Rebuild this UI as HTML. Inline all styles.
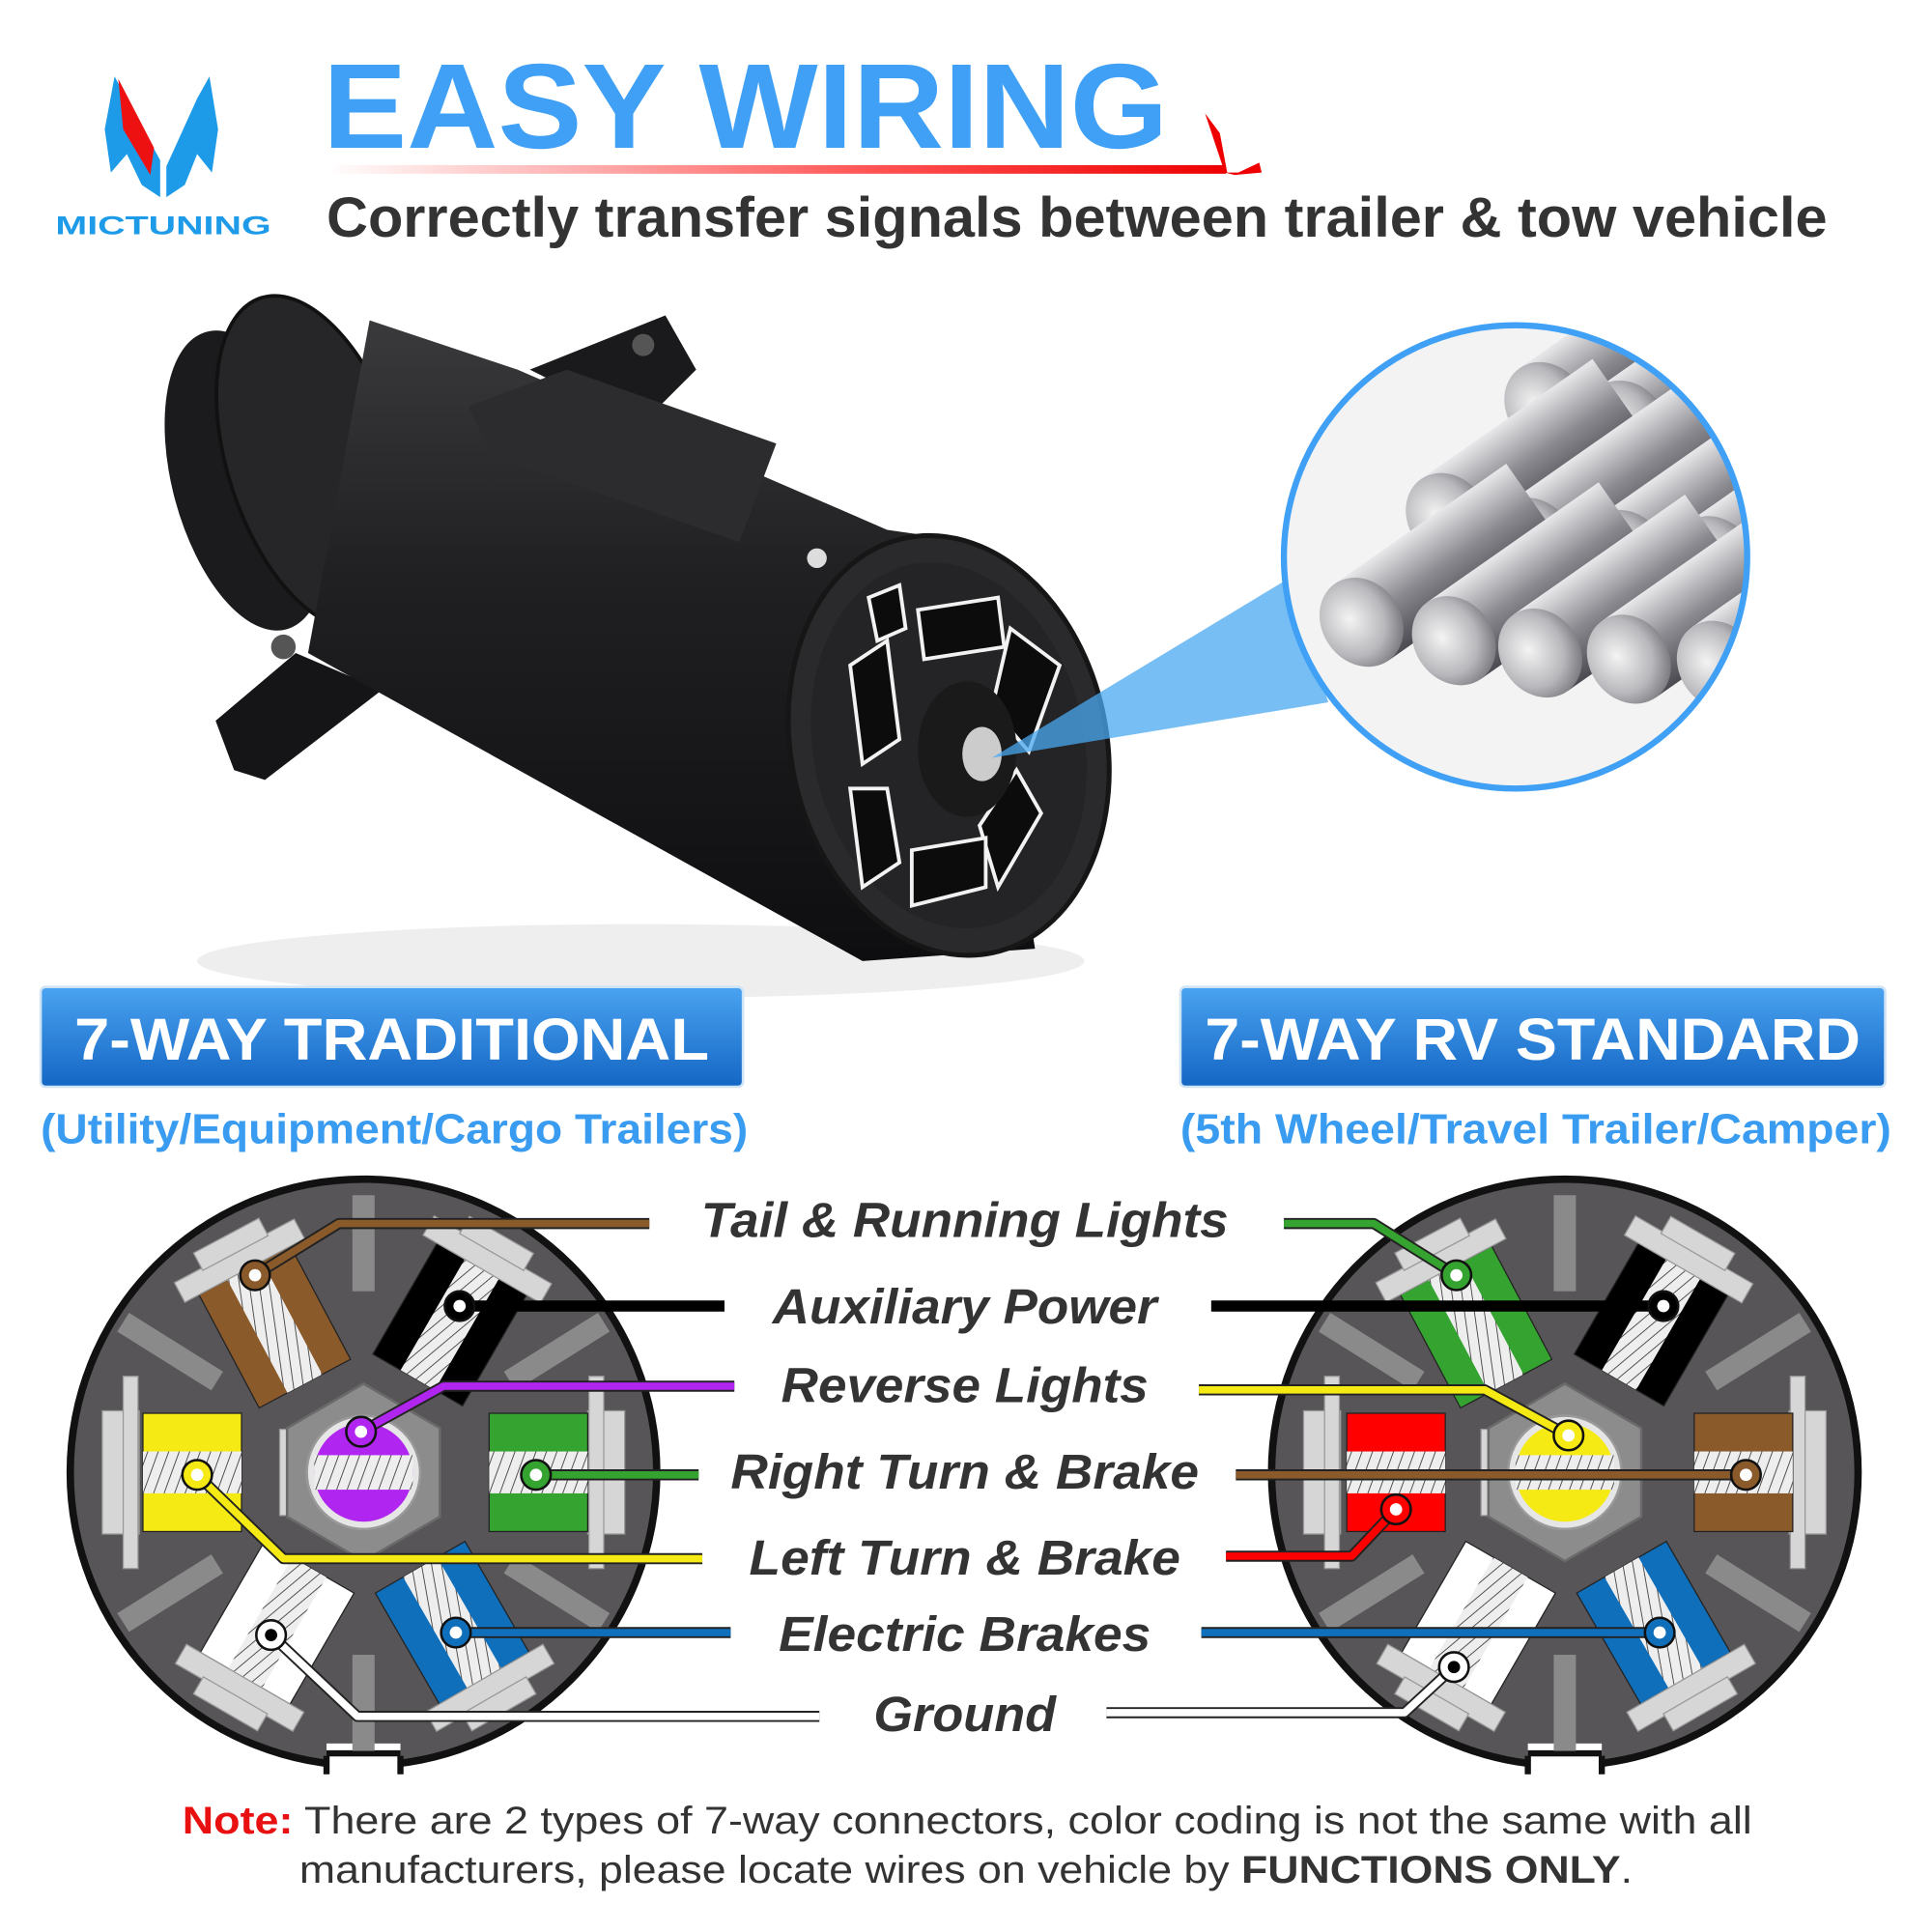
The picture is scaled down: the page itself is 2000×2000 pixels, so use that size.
<!DOCTYPE html>
<html><head><meta charset="utf-8">
<style>html,body{margin:0;padding:0;background:#fff}svg{display:block}</style>
</head><body>
<svg width="2000" height="2000" viewBox="0 0 1568 1568" xmlns="http://www.w3.org/2000/svg">
<defs>
<linearGradient id="btn" x1="0" y1="0" x2="0" y2="1"><stop offset="0" stop-color="#4aa3f0"/><stop offset="1" stop-color="#1466c4"/></linearGradient>
<linearGradient id="ul" x1="0" y1="0" x2="1" y2="0"><stop offset="0" stop-color="#fff"/><stop offset="0.6" stop-color="#f55"/><stop offset="1" stop-color="#e00"/></linearGradient>
<linearGradient id="body" x1="0" y1="0" x2="0" y2="1"><stop offset="0" stop-color="#3a3a3c"/><stop offset="0.4" stop-color="#202022"/><stop offset="1" stop-color="#0e0e10"/></linearGradient>
<radialGradient id="silver" cx="0.4" cy="0.4" r="0.7"><stop offset="0" stop-color="#f4f4f4"/><stop offset="0.6" stop-color="#b8b8bc"/><stop offset="1" stop-color="#6a6a70"/></radialGradient>
<linearGradient id="rod" x1="0" y1="0" x2="0" y2="1"><stop offset="0" stop-color="#e8e8ea"/><stop offset="0.5" stop-color="#8a8a90"/><stop offset="1" stop-color="#4a4a50"/></linearGradient>
<clipPath id="mag"><circle cx="1230" cy="452" r="186"/></clipPath>
<pattern id="hatch" width="8" height="8" patternUnits="userSpaceOnUse" patternTransform="rotate(20)"><rect width="8" height="8" fill="#eee"/><line x1="0" y1="0" x2="0" y2="8" stroke="#333" stroke-width="1.3"/></pattern>
<g id="base">
  <ellipse cx="0" cy="0" rx="238" ry="238" fill="#575557" stroke="#111" stroke-width="6"/>
  <rect x="-30" y="220" width="60" height="30" fill="#fff"/>
  <path d="M-30 230 L-30 245 M30 230 L30 245 M-30 228 L30 228" stroke="#111" stroke-width="5" fill="none"/>
  <rect x="-9" y="-225" width="18" height="78" fill="#8a8a8a"/>
  <rect x="-9" y="148" width="18" height="78" fill="#8a8a8a"/>
  <g fill="#8a8a8a">
    <rect x="-230" y="-9" width="90" height="18" transform="rotate(32)"/>
    <rect x="-230" y="-9" width="90" height="18" transform="rotate(-32)"/>
    <rect x="140" y="-9" width="90" height="18" transform="rotate(32)"/>
    <rect x="140" y="-9" width="90" height="18" transform="rotate(-32)"/>
  </g>
  <g fill="#d6d6d6" stroke="#999" stroke-width="1">
    <rect x="-212" y="-50" width="30" height="100"/>
    <rect x="182" y="-50" width="30" height="100"/>
    <rect x="-195" y="-78" width="12" height="156"/>
    <rect x="183" y="-78" width="12" height="156"/>
    <rect x="-68" y="-35" width="16" height="70"/>
  </g>
  <polygon points="0,-72 62,-36 62,36 0,72 -62,36 -62,-36" fill="#8c8c8c" stroke="#6a6a6a" stroke-width="2"/>
  <circle r="46" fill="#e6e6e6" stroke="#999" stroke-width="2"/>
</g>
<g id="blk">
  <rect x="-42" y="-52" width="84" height="104" fill="currentColor" stroke="#222" stroke-width="1"/>
  <rect x="-16" y="-52" width="32" height="104" fill="url(#hatch)"/>
  <rect x="-55" y="-70" width="110" height="18" fill="#d6d6d6" stroke="#999"/>
  <rect x="-30" y="-84" width="60" height="16" fill="#d6d6d6" stroke="#999"/>
</g>
<g id="side">
  <rect x="-40" y="-48" width="80" height="96" fill="currentColor" stroke="#222" stroke-width="1"/>
  <rect x="-40" y="-17" width="80" height="34" fill="url(#hatch)"/>
</g>
</defs>

<rect width="1568" height="1568" fill="#fff"/>

<!-- Logo -->
<path d="M93 62 L100 75 L130 130 L130 160 L115 150 L103 125 L90 140 L85 105 Z" fill="#1e9be8"/>
<path d="M96 64 L125 120 L122 142 L100 105 Z" fill="#ee1111"/>
<path d="M170 62 L160 80 L135 135 L135 160 L150 150 L160 125 L172 140 L177 105 Z" fill="#1e9be8"/>
<text x="45" y="190" font-family="Liberation Sans, sans-serif" font-weight="bold" font-size="21" fill="#1e9be8" textLength="175" lengthAdjust="spacingAndGlyphs">MICTUNING</text>

<!-- Title -->
<text x="262" y="120" font-family="Liberation Sans, sans-serif" font-weight="bold" font-size="98" fill="#3fa0f5" textLength="686" lengthAdjust="spacingAndGlyphs">EASY WIRING</text>
<rect x="265" y="134" width="730" height="7" fill="url(#ul)"/>
<path d="M978 92 L990 108 L996 140 L1005 140 L1022 132 L1024 140 L1002 142 L994 140 Z" fill="#e00"/>
<text x="265" y="192" font-family="Liberation Sans, sans-serif" font-weight="bold" font-size="46" fill="#333" textLength="1218" lengthAdjust="spacingAndGlyphs">Correctly transfer signals between trailer &amp; tow vehicle</text>

<!-- connector photo -->
<ellipse cx="520" cy="780" rx="360" ry="30" fill="#eee"/>
<polygon points="175,585 240,530 310,560 215,633 190,625" fill="#151517"/>
<polygon points="430,300 540,256 565,300 520,345" fill="#1a1a1c"/>
<circle cx="230" cy="525" r="10" fill="#555"/>
<circle cx="522" cy="280" r="9" fill="#555"/>
<ellipse cx="200" cy="390" rx="60" ry="125" fill="#1b1b1d" transform="rotate(-15 200 390)"/>
<ellipse cx="255" cy="375" rx="70" ry="140" fill="#262628" stroke="#111" stroke-width="3" transform="rotate(-18 255 375)"/>
<path d="M300 260 L420 300 L720 430 L790 440 L840 770 L700 780 L250 530 Z" fill="url(#body)"/>
<polygon points="380,330 460,300 630,360 600,440 400,370" fill="#2c2c2e"/>
<ellipse cx="770" cy="605" rx="128" ry="172" fill="#2a2a2c" stroke="#161616" stroke-width="4" transform="rotate(-12 770 605)"/>
<ellipse cx="770" cy="605" rx="110" ry="150" fill="#242426" transform="rotate(-12 770 605)"/>
<g stroke="#f2f2f2" stroke-width="3" fill="#0c0c0c">
  <polygon points="745,495 810,485 815,525 750,535"/>
  <polygon points="820,510 860,540 835,610 805,575"/>
  <polygon points="825,625 845,660 810,720 795,670"/>
  <polygon points="740,690 800,680 800,720 740,735"/>
  <polygon points="690,640 720,640 730,700 700,720"/>
  <polygon points="690,540 720,520 730,600 700,620"/>
  <polygon points="705,485 730,475 735,510 712,520"/>
</g>
<ellipse cx="785" cy="608" rx="40" ry="55" fill="#1a1a1a"/>
<ellipse cx="797" cy="612" rx="16" ry="22" fill="#ccc"/>
<circle cx="663" cy="453" r="8" fill="#ddd"/>
<polygon points="805,615 1045,470 1078,570" fill="#4aa8f0" opacity="0.75"/>

<!-- magnifier -->
<circle cx="1230" cy="452" r="188" fill="#f3f3f3"/>
<g clip-path="url(#mag)">
  <g stroke-linecap="butt">
    <g transform="translate(1255,330) rotate(-35)"><rect x="0" y="-38" width="170" height="76" fill="url(#rod)"/><ellipse cx="0" cy="0" rx="32" ry="38" fill="url(#silver)"/></g>
    <g transform="translate(1320,345) rotate(-35)"><rect x="0" y="-38" width="170" height="76" fill="url(#rod)"/><ellipse cx="0" cy="0" rx="32" ry="38" fill="url(#silver)"/></g>
    <g transform="translate(1390,350) rotate(-35)"><rect x="0" y="-38" width="170" height="76" fill="url(#rod)"/><ellipse cx="0" cy="0" rx="32" ry="38" fill="url(#silver)"/></g>
    <g transform="translate(1175,420) rotate(-35)"><rect x="0" y="-38" width="170" height="76" fill="url(#rod)"/><ellipse cx="0" cy="0" rx="32" ry="38" fill="url(#silver)"/></g>
    <g transform="translate(1245,440) rotate(-35)"><rect x="0" y="-38" width="170" height="76" fill="url(#rod)"/><ellipse cx="0" cy="0" rx="32" ry="38" fill="url(#silver)"/></g>
    <g transform="translate(1320,450) rotate(-35)"><rect x="0" y="-38" width="170" height="76" fill="url(#rod)"/><ellipse cx="0" cy="0" rx="32" ry="38" fill="url(#silver)"/></g>
    <g transform="translate(1392,455) rotate(-35)"><rect x="0" y="-38" width="170" height="76" fill="url(#rod)"/><ellipse cx="0" cy="0" rx="32" ry="38" fill="url(#silver)"/></g>
    <g transform="translate(1105,505) rotate(-35)"><rect x="0" y="-38" width="170" height="76" fill="url(#rod)"/><ellipse cx="0" cy="0" rx="32" ry="38" fill="url(#silver)"/></g>
    <g transform="translate(1180,520) rotate(-35)"><rect x="0" y="-38" width="170" height="76" fill="url(#rod)"/><ellipse cx="0" cy="0" rx="32" ry="38" fill="url(#silver)"/></g>
    <g transform="translate(1250,530) rotate(-35)"><rect x="0" y="-38" width="170" height="76" fill="url(#rod)"/><ellipse cx="0" cy="0" rx="32" ry="38" fill="url(#silver)"/></g>
    <g transform="translate(1322,535) rotate(-35)"><rect x="0" y="-38" width="170" height="76" fill="url(#rod)"/><ellipse cx="0" cy="0" rx="32" ry="38" fill="url(#silver)"/></g>
    <g transform="translate(1395,540) rotate(-35)"><rect x="0" y="-38" width="170" height="76" fill="url(#rod)"/><ellipse cx="0" cy="0" rx="32" ry="38" fill="url(#silver)"/></g>
  </g>
</g>
<circle cx="1230" cy="452" r="188" fill="none" stroke="#3fa0f5" stroke-width="5"/>

<!-- buttons -->
<rect x="33" y="801" width="570" height="81" rx="4" fill="url(#btn)" stroke="#cfe3f7" stroke-width="2"/>
<text x="318" y="860" text-anchor="middle" font-family="Liberation Sans, sans-serif" font-weight="bold" font-size="48" fill="#fff" textLength="515" lengthAdjust="spacingAndGlyphs">7-WAY TRADITIONAL</text>
<rect x="958" y="801" width="572" height="81" rx="4" fill="url(#btn)" stroke="#cfe3f7" stroke-width="2"/>
<text x="1244" y="860" text-anchor="middle" font-family="Liberation Sans, sans-serif" font-weight="bold" font-size="48" fill="#fff" textLength="532" lengthAdjust="spacingAndGlyphs">7-WAY RV STANDARD</text>
<text x="33" y="928" font-family="Liberation Sans, sans-serif" font-weight="bold" font-size="34" fill="#3a9cf0" textLength="574" lengthAdjust="spacingAndGlyphs">(Utility/Equipment/Cargo Trailers)</text>
<text x="958" y="928" font-family="Liberation Sans, sans-serif" font-weight="bold" font-size="34" fill="#3a9cf0" textLength="577" lengthAdjust="spacingAndGlyphs">(5th Wheel/Travel Trailer/Camper)</text>

<!-- left diagram -->
<g transform="translate(295,1195)">
  <use href="#base"/>
  <use href="#blk" color="#8b5a2b" transform="translate(-72,-118) rotate(-28)"/>
  <use href="#blk" color="#000" transform="translate(70,-120) rotate(30)"/>
  <use href="#blk" color="#fff" transform="translate(-70,122) rotate(-150)"/>
  <use href="#blk" color="#0f6fbb" transform="translate(72,122) rotate(150)"/>
  <use href="#side" color="#f5ea14" transform="translate(-139,0)"/>
  <use href="#side" color="#35a32f" transform="translate(142,0)"/>
  <circle r="40" fill="#b026f0"/>
  <rect x="-40" y="-14" width="80" height="28" fill="url(#hatch)"/>
</g>
<g fill="none" stroke-linejoin="round">
  <polyline points="207,1035 275,993 527,993" stroke="#222" stroke-width="9"/><polyline points="207,1035 275,993 527,993" stroke="#8b5a2b" stroke-width="6"/>
  <polyline points="373,1060 588,1060" stroke="#000" stroke-width="9"/>
  <polyline points="293,1162 360,1125 596,1125" stroke="#222" stroke-width="9"/><polyline points="293,1162 360,1125 596,1125" stroke="#b026f0" stroke-width="6"/>
  <polyline points="435,1197 567,1197" stroke="#222" stroke-width="9"/><polyline points="435,1197 567,1197" stroke="#35a32f" stroke-width="6"/>
  <polyline points="160,1197 230,1265 570,1265" stroke="#222" stroke-width="9"/><polyline points="160,1197 230,1265 570,1265" stroke="#f5ea14" stroke-width="6"/>
  <polyline points="370,1325 593,1325" stroke="#222" stroke-width="9"/><polyline points="370,1325 593,1325" stroke="#0f6fbb" stroke-width="6"/>
  <polyline points="220,1327 290,1393 665,1393" stroke="#222" stroke-width="9"/><polyline points="220,1327 290,1393 665,1393" stroke="#fff" stroke-width="6"/>
</g>
<g stroke="#111" stroke-width="2">
  <circle cx="207" cy="1035" r="12" fill="#8b5a2b"/><circle cx="207" cy="1035" r="5" fill="#fff" stroke="none"/>
  <circle cx="373" cy="1060" r="12" fill="#000"/><circle cx="373" cy="1060" r="5" fill="#fff" stroke="none"/>
  <circle cx="293" cy="1162" r="12" fill="#b026f0"/><circle cx="293" cy="1162" r="5" fill="#fff" stroke="none"/>
  <circle cx="435" cy="1197" r="12" fill="#35a32f"/><circle cx="435" cy="1197" r="5" fill="#fff" stroke="none"/>
  <circle cx="160" cy="1197" r="12" fill="#f5ea14"/><circle cx="160" cy="1197" r="5" fill="#fff" stroke="none"/>
  <circle cx="370" cy="1325" r="12" fill="#0f6fbb"/><circle cx="370" cy="1325" r="5" fill="#fff" stroke="none"/>
  <circle cx="220" cy="1327" r="12" fill="#fff"/><circle cx="220" cy="1327" r="5" fill="#000" stroke="none"/>
</g>

<!-- right diagram -->
<g transform="translate(1270,1195)">
  <use href="#base"/>
  <use href="#blk" color="#35a32f" transform="translate(-72,-118) rotate(-28)"/>
  <use href="#blk" color="#000" transform="translate(70,-120) rotate(30)"/>
  <use href="#blk" color="#fff" transform="translate(-70,122) rotate(-150)"/>
  <use href="#blk" color="#0f6fbb" transform="translate(72,122) rotate(150)"/>
  <use href="#side" color="#ff0000" transform="translate(-137,0)"/>
  <use href="#side" color="#8b5a2b" transform="translate(145,0)"/>
  <circle r="40" fill="#f5ea14"/>
  <rect x="-40" y="-14" width="80" height="28" fill="url(#hatch)"/>
</g>
<g fill="none" stroke-linejoin="round">
  <polyline points="1042,993 1115,993 1182,1035" stroke="#222" stroke-width="9"/><polyline points="1042,993 1115,993 1182,1035" stroke="#35a32f" stroke-width="6"/>
  <polyline points="983,1060 1350,1060" stroke="#000" stroke-width="9"/>
  <polyline points="973,1128 1205,1128 1273,1165" stroke="#222" stroke-width="9"/><polyline points="973,1128 1205,1128 1273,1165" stroke="#f5ea14" stroke-width="6"/>
  <polyline points="1003,1197 1417,1197" stroke="#222" stroke-width="9"/><polyline points="1003,1197 1417,1197" stroke="#8b5a2b" stroke-width="6"/>
  <polyline points="995,1263 1097,1263 1133,1225" stroke="#222" stroke-width="9"/><polyline points="995,1263 1097,1263 1133,1225" stroke="#ff0000" stroke-width="6"/>
  <polyline points="975,1325 1347,1325" stroke="#222" stroke-width="9"/><polyline points="975,1325 1347,1325" stroke="#0f6fbb" stroke-width="6"/>
  <polyline points="898,1390 1140,1390 1180,1353" stroke="#222" stroke-width="9"/><polyline points="898,1390 1140,1390 1180,1353" stroke="#fff" stroke-width="6"/>
</g>
<g stroke="#111" stroke-width="2">
  <circle cx="1182" cy="1035" r="12" fill="#35a32f"/><circle cx="1182" cy="1035" r="5" fill="#fff" stroke="none"/>
  <circle cx="1350" cy="1060" r="12" fill="#000"/><circle cx="1350" cy="1060" r="5" fill="#fff" stroke="none"/>
  <circle cx="1273" cy="1165" r="12" fill="#f5ea14"/><circle cx="1273" cy="1165" r="5" fill="#fff" stroke="none"/>
  <circle cx="1417" cy="1197" r="12" fill="#8b5a2b"/><circle cx="1417" cy="1197" r="5" fill="#fff" stroke="none"/>
  <circle cx="1133" cy="1225" r="12" fill="#ff0000"/><circle cx="1133" cy="1225" r="5" fill="#fff" stroke="none"/>
  <circle cx="1347" cy="1325" r="12" fill="#0f6fbb"/><circle cx="1347" cy="1325" r="5" fill="#fff" stroke="none"/>
  <circle cx="1180" cy="1353" r="12" fill="#fff"/><circle cx="1180" cy="1353" r="5" fill="#000" stroke="none"/>
</g>

<!-- labels -->
<g font-family="Liberation Sans, sans-serif" font-weight="bold" font-style="italic" font-size="40" fill="#333" text-anchor="middle">
  <text x="783" y="1004" textLength="428" lengthAdjust="spacingAndGlyphs">Tail &amp; Running Lights</text>
  <text x="783" y="1074" textLength="312" lengthAdjust="spacingAndGlyphs">Auxiliary Power</text>
  <text x="783" y="1138" textLength="298" lengthAdjust="spacingAndGlyphs">Reverse Lights</text>
  <text x="783" y="1208" textLength="380" lengthAdjust="spacingAndGlyphs">Right Turn &amp; Brake</text>
  <text x="783" y="1278" textLength="350" lengthAdjust="spacingAndGlyphs">Left Turn &amp; Brake</text>
  <text x="783" y="1340" textLength="302" lengthAdjust="spacingAndGlyphs">Electric Brakes</text>
  <text x="783" y="1405" textLength="148" lengthAdjust="spacingAndGlyphs">Ground</text>
</g>

<!-- note -->
<text x="148" y="1488" font-family="Liberation Sans, sans-serif" font-size="31" fill="#333" textLength="1274" lengthAdjust="spacingAndGlyphs"><tspan fill="#e81010" font-weight="bold">Note:</tspan> There are 2 types of 7-way connectors, color coding is not the same with all</text>
<text x="243" y="1528" font-family="Liberation Sans, sans-serif" font-size="31" fill="#333" textLength="1082" lengthAdjust="spacingAndGlyphs">manufacturers, please locate wires on vehicle by <tspan font-weight="bold">FUNCTIONS ONLY</tspan>.</text>
</svg>
</body></html>
